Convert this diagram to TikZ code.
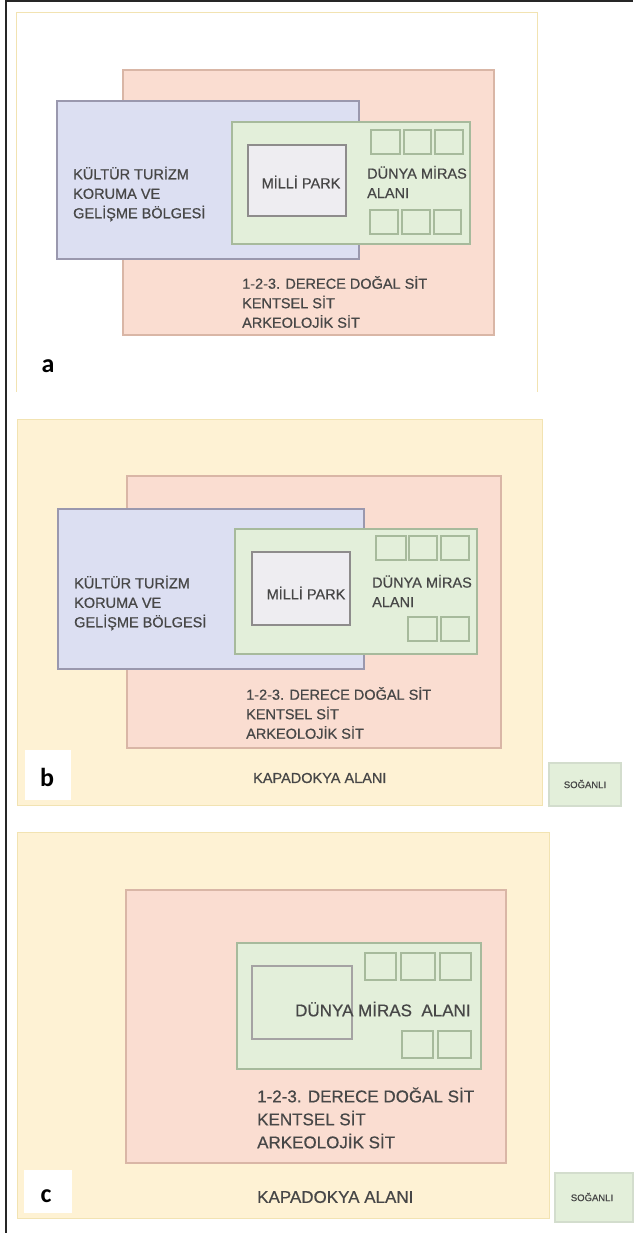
\documentclass[tikz,border=0pt]{standalone}
\usepackage{fontspec}
\setmainfont{Liberation Sans}
\newfontfamily\areafont[FakeBold=0.6]{Liberation Sans}
\newfontfamily\letterfont{Carlito}

\definecolor{panelyellow}{HTML}{FEF2D4}
\definecolor{panelline}{HTML}{F2E3B2}
\definecolor{sitred}{HTML}{FADDD1}
\definecolor{sitline}{HTML}{D9B6A6}
\definecolor{kulturblue}{HTML}{DCDFF2}
\definecolor{kulturline}{HTML}{9A98AE}
\definecolor{mirasgreen}{HTML}{E3EFDA}
\definecolor{mirasline}{HTML}{A7BA9C}
\definecolor{parkgray}{HTML}{EEEDF1}
\definecolor{parkline}{HTML}{8E8C8C}
\definecolor{txtgray}{HTML}{474747}

\tikzset{
	panelbox/.style={fill=panelyellow,draw=panelline,line width=1pt},
	sitbox/.style={fill=sitred,draw=sitline,line width=1.2pt},
	kulturbox/.style={fill=kulturblue,draw=kulturline,line width=1.4pt},
	mirasbox/.style={fill=mirasgreen,draw=mirasline,line width=1.2pt},
	parkbox/.style={fill=parkgray,draw=parkline,line width=1.3pt},
	cellbox/.style={draw=mirasline,line width=1.1pt},
	labelbox/.style={fill=white},
	areatext/.style={text=txtgray,inner sep=0,align=left,font=\areafont\fontsize{14.5}{19.5}\selectfont},
	bigtext/.style={text=txtgray,inner sep=0,align=left,font=\areafont\fontsize{17}{23}\selectfont},
	smalltext/.style={text=txtgray,inner sep=0,font=\areafont\fontsize{9.5}{11}\selectfont},
	letter/.style={inner sep=0,font=\letterfont\bfseries\fontsize{26}{26}\selectfont}
}

\begin{document}
\begin{tikzpicture}[x=1pt,y=-1pt]
	\useasboundingbox (0,0) rectangle (633,1233);
	\draw[black!85,line width=1.2pt] (6,1233) -- (6,1) -- (633,1);

	% panel a
	\draw[draw=panelline,line width=1pt] (16,392) -- (16,13) -- (537,13) -- (537,392);
	\draw[sitbox] (123,70) rectangle (494,335);
	\draw[kulturbox] (57,101) rectangle (359,259);
	\draw[mirasbox] (232,122) rectangle (470,244);
	\draw[parkbox] (248,145) rectangle (346,216);
	\draw[cellbox] (371,130) rectangle (400,154);
	\draw[cellbox] (404,130) rectangle (431,154);
	\draw[cellbox] (435,130) rectangle (463,154);
	\draw[cellbox] (370,210) rectangle (398,234);
	\draw[cellbox] (402,210) rectangle (430,234);
	\draw[cellbox] (434,210) rectangle (461,234);
	\node[areatext,anchor=west] (kultura) at (73,194) {KÜLTÜR TURİZM\\KORUMA VE\\GELİŞME BÖLGESİ};
	\node[areatext] (parka) at (301,182) {MİLLİ PARK};
	\node[areatext,anchor=west] (dunyaa) at (367,182) {DÜNYA MİRAS\\ALANI};
	\node[areatext,anchor=west] (sita) at (242,302) {1-2-3. DERECE DOĞAL SİT\\KENTSEL SİT\\ARKEOLOJİK SİT};
	\fill[labelbox] (26,337) rectangle (77,383);
	\node[letter] (la) at (48,366) {a};

	% panel b
	\draw[panelbox] (17,419) rectangle (542,805);
	\draw[sitbox] (127,476) rectangle (501,748);
	\draw[kulturbox] (58,509) rectangle (364,669);
	\draw[mirasbox] (235,529) rectangle (477,654);
	\draw[parkbox] (252,552) rectangle (350,625);
	\draw[cellbox] (376,536) rectangle (406,560);
	\draw[cellbox] (409,536) rectangle (437,560);
	\draw[cellbox] (441,536) rectangle (469,560);
	\draw[cellbox] (408,617) rectangle (437,641);
	\draw[cellbox] (441,617) rectangle (469,641);
	\node[areatext,anchor=west] (kulturb) at (74,603) {KÜLTÜR TURİZM\\KORUMA VE\\GELİŞME BÖLGESİ};
	\node[areatext] (parkb) at (306,593) {MİLLİ PARK};
	\node[areatext,anchor=west] (dunyab) at (372,591) {DÜNYA MİRAS\\ALANI};
	\node[areatext,anchor=west] (sitb) at (246,713) {1-2-3. DERECE DOĞAL SİT\\KENTSEL SİT\\ARKEOLOJİK SİT};
	\node[areatext,anchor=west] (kapb) at (253,778) {KAPADOKYA ALANI};
	\fill[labelbox] (25,750) rectangle (71,800);
	\node[letter] (lb) at (47,777) {b};
	\draw[mirasbox,draw=mirasline!50] (549,763) rectangle (621,806);
	\node[smalltext] (sogb) at (585,784) {SOĞANLI};

	% panel c
	\draw[panelbox] (17,832) rectangle (549,1218);
	\draw[sitbox] (126,890) rectangle (506,1163);
	\draw[mirasbox] (237,943) rectangle (481,1069);
	\draw[cellbox,draw=parkline!80] (252,966) rectangle (352,1039);
	\draw[cellbox] (365,953) rectangle (396,980);
	\draw[cellbox] (401,953) rectangle (435,980);
	\draw[cellbox] (440,953) rectangle (471,980);
	\draw[cellbox] (402,1031) rectangle (433,1058);
	\draw[cellbox] (438,1031) rectangle (471,1058);
	\node[bigtext,anchor=west] (dunyac) at (295,1009) {DÜNYA MİRAS\ \ ALANI};
	\node[bigtext,anchor=west] (sitc) at (257,1118) {1-2-3. DERECE DOĞAL SİT\\KENTSEL SİT\\ARKEOLOJİK SİT};
	\node[bigtext,anchor=west] (kapc) at (257,1197) {KAPADOKYA ALANI};
	\fill[labelbox] (24,1170) rectangle (72,1213);
	\node[letter] (lc) at (46,1196) {c};
	\draw[mirasbox,draw=mirasline!50] (555,1173) rectangle (633,1222);
	\node[smalltext] (sogc) at (592,1197) {SOĞANLI};
\end{tikzpicture}
\end{document}
